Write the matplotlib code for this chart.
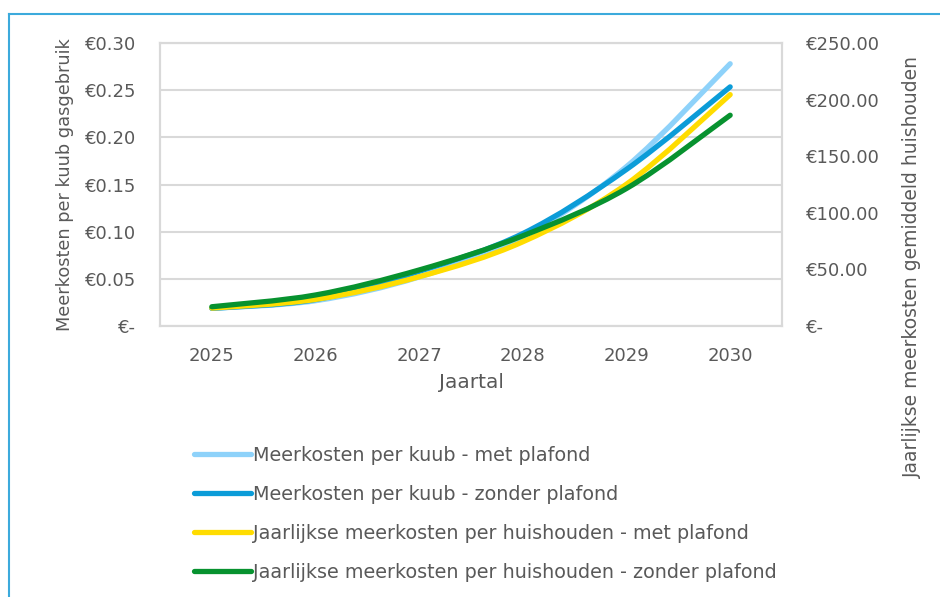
import matplotlib
matplotlib.use("Agg")
import matplotlib.pyplot as plt
from matplotlib.path import Path
from matplotlib.patches import PathPatch
from matplotlib.lines import Line2D

plt.rcParams['font.family'] = ['DejaVu Sans']

years = [2025, 2026, 2027, 2028, 2029, 2030]
kuub_met = [0.0187, 0.0268, 0.052, 0.095, 0.169, 0.278]
kuub_zonder = [0.0187, 0.028, 0.058, 0.098, 0.166, 0.2535]
huis_met = [15.8, 23.5, 43.5, 74.4, 125.3, 204.4]
huis_zonder = [17.0, 27.4, 49.5, 79.7, 121.5, 186.2]

labels = ["Meerkosten per kuub - met plafond",
          "Meerkosten per kuub - zonder plafond",
          "Jaarlijkse meerkosten per huishouden - met plafond",
          "Jaarlijkse meerkosten per huishouden - zonder plafond"]
colors = ["#8ED2FA", "#0B9CD8", "#FFDC00", "#07922F"]

left_ticks = [0, 0.05, 0.10, 0.15, 0.20, 0.25, 0.30]
right_ticks = [0, 50, 100, 150, 200, 250]

TXT = "#595959"
GRID = "#D9D9D9"
LW = 3.8


def smooth_path(xs, ys):
    # Catmull-Rom style bezier through the points (like a smoothed line)
    verts = [(xs[0], ys[0])]
    codes = [Path.MOVETO]
    n = len(xs)
    for i in range(n - 1):
        x0, y0 = (xs[i - 1], ys[i - 1]) if i > 0 else (xs[i], ys[i])
        x1, y1 = xs[i], ys[i]
        x2, y2 = xs[i + 1], ys[i + 1]
        x3, y3 = (xs[i + 2], ys[i + 2]) if i + 2 < n else (x2, y2)
        c1 = (x1 + (x2 - x0) / 6, y1 + (y2 - y0) / 6)
        c2 = (x2 - (x3 - x1) / 6, y2 - (y3 - y1) / 6)
        verts += [c1, c2, (x2, y2)]
        codes += [Path.CURVE4] * 3
    return Path(verts, codes)


fig = plt.figure(figsize=(9.4, 5.97), dpi=100)
ax = fig.add_axes([160 / 940, 1 - 326 / 597, 622 / 940, 283 / 597])
ax2 = ax.twinx()

xpos = list(range(len(years)))
for ys, c, a in [(kuub_met, colors[0], ax), (kuub_zonder, colors[1], ax),
                 (huis_met, colors[2], ax2), (huis_zonder, colors[3], ax2)]:
    p = PathPatch(smooth_path(xpos, ys), facecolor="none", edgecolor=c,
                  lw=LW, capstyle="round", joinstyle="round")
    a.add_patch(p)

ax.set_xlim(-0.5, 5.5)
ax.set_ylim(0, 0.30)
ax2.set_ylim(0, 250)
ax.set_xticks(xpos)
ax.set_xticklabels([str(y) for y in years])
ax.set_yticks(left_ticks)
ax.set_yticklabels(["€-"] + [f"€{v:.2f}" for v in left_ticks[1:]])
ax2.set_yticks(right_ticks)
ax2.set_yticklabels(["€-"] + [f"€{v:.2f}" for v in right_ticks[1:]])

ax.yaxis.grid(True, color=GRID, lw=1.5)
ax.set_axisbelow(True)
for a in (ax, ax2):
    for s in a.spines.values():
        s.set_color(GRID)
        s.set_linewidth(1.5)
    a.tick_params(length=0, colors=TXT, labelsize=13)
ax.tick_params(axis="x", pad=15)
ax.tick_params(axis="y", pad=17)
ax2.tick_params(axis="y", pad=17)

ax.set_xlabel("Jaartal", color=TXT, fontsize=14.5, labelpad=6)
ax.set_ylabel("Meerkosten per kuub gasgebruik", color=TXT, fontsize=12.8, labelpad=8)
fig.text(912 / 940, 1 - 267 / 597, "Jaarlijkse meerkosten gemiddeld huishouden",
         rotation=90, ha="center", va="center", color=TXT, fontsize=13.5)

handles = [Line2D([], [], color=c, lw=LW, solid_capstyle="round") for c in colors]
fig.legend(handles, labels, loc="upper left", bbox_to_anchor=(186 / 940, 1 - 438 / 597),
           frameon=False, fontsize=13.8, labelcolor=TXT, handlelength=3.0,
           handletextpad=0.1, labelspacing=1.05, borderaxespad=0)

# outer frame
frame = "#3CAADC"
fig.add_artist(Line2D([9 / 940, 9 / 940], [0, 1 - 13.5 / 597], color=frame, lw=1.5))
fig.add_artist(Line2D([9 / 940, 1], [1 - 13.5 / 597, 1 - 13.5 / 597], color=frame, lw=1.5))

fig.savefig("out.png", dpi=100)
